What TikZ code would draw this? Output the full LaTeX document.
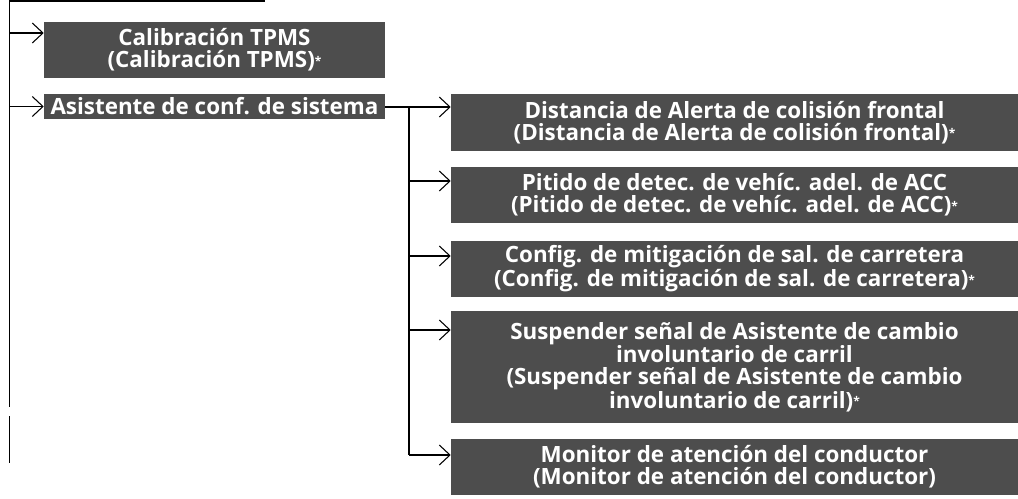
\documentclass[tikz,border=0pt]{standalone}
\usepackage{fontspec}
\setmainfont{Open Sans}
\usetikzlibrary{arrows.meta}
\definecolor{boxgray}{RGB}{77,77,77}
\newcommand{\myast}{{\fontsize{9}{9}\selectfont\raisebox{0.4ex}{*}}}
\begin{document}
\begin{tikzpicture}[x=0.75pt,y=-0.75pt,
  box/.style={fill=boxgray,text=white,font=\bfseries\fontsize{16.8}{16.5}\selectfont,
    align=center,inner sep=0pt,minimum width=#1*0.75pt},
  ln/.style={line width=1.4pt,black},
  arr/.style={ln,-{Straight Barb[length=8pt,width=15pt,line width=0.8pt]}}]
\useasboundingbox (0,0) rectangle (1018,499);
% left column boxes
\node[box=341,minimum height=56*0.75pt] (tpms) at (214.5,50) {Calibración TPMS\\(Calibración TPMS)\myast};
\node[box=341,minimum height=25*0.75pt] (asis) at (214.5,106.5) {Asistente de conf. de sistema};
% right column boxes
\node[box=567,minimum height=57*0.75pt] (b1) at (734.5,122.5) {Distancia de Alerta de colisión frontal\\(Distancia de Alerta de colisión frontal)\myast};
\node[box=567,minimum height=56*0.75pt] (b2) at (734.5,195) {Pitido de detec. de vehíc. adel. de ACC\\(Pitido de detec. de vehíc. adel. de ACC)\myast};
\node[box=567,minimum height=56*0.75pt] (b3) at (734.5,269) {Config. de mitigación de sal. de carretera\\(Config. de mitigación de sal. de carretera)\myast};
\node[box=567,minimum height=112*0.75pt] (b4) at (734.5,367) {Suspender señal de Asistente de cambio\\involuntario de carril\\(Suspender señal de Asistente de cambio\\involuntario de carril)\myast};
\node[box=567,minimum height=56*0.75pt] (b5) at (734.5,467) {Monitor de atención del conductor\\(Monitor de atención del conductor)};
% trunk
\coordinate (top) at (9.5,0);
\coordinate (topr) at (265,1);
\coordinate (tend) at (9.5,407);
\coordinate (s1) at (9.5,416);
\coordinate (s2) at (9.5,463);
\draw[ln] (top) -- (tend);
\draw[ln] (s1) -- (s2);
\draw[ln] (top |- topr) -- (topr);
\coordinate (t1) at (9.5,33);
\coordinate (t2) at (9.5,106.5);
\draw[arr] (t1) -- (t1 -| tpms.west);
\draw[arr] (t2) -- (t2 -| asis.west);
% branch
\coordinate (j) at (409,107);
\coordinate (a2) at (409,181);
\coordinate (a3) at (409,256);
\coordinate (a4) at (409,330);
\coordinate (a5) at (409,455);
\draw[arr] (asis.east |- j) -- (j -| b1.west);
\draw[ln] (j) -- (a5);
\draw[arr] (a2) -- (a2 -| b2.west);
\draw[arr] (a3) -- (a3 -| b3.west);
\draw[arr] (a4) -- (a4 -| b4.west);
\draw[arr] (a5) -- (a5 -| b5.west);
\end{tikzpicture}
\end{document}
